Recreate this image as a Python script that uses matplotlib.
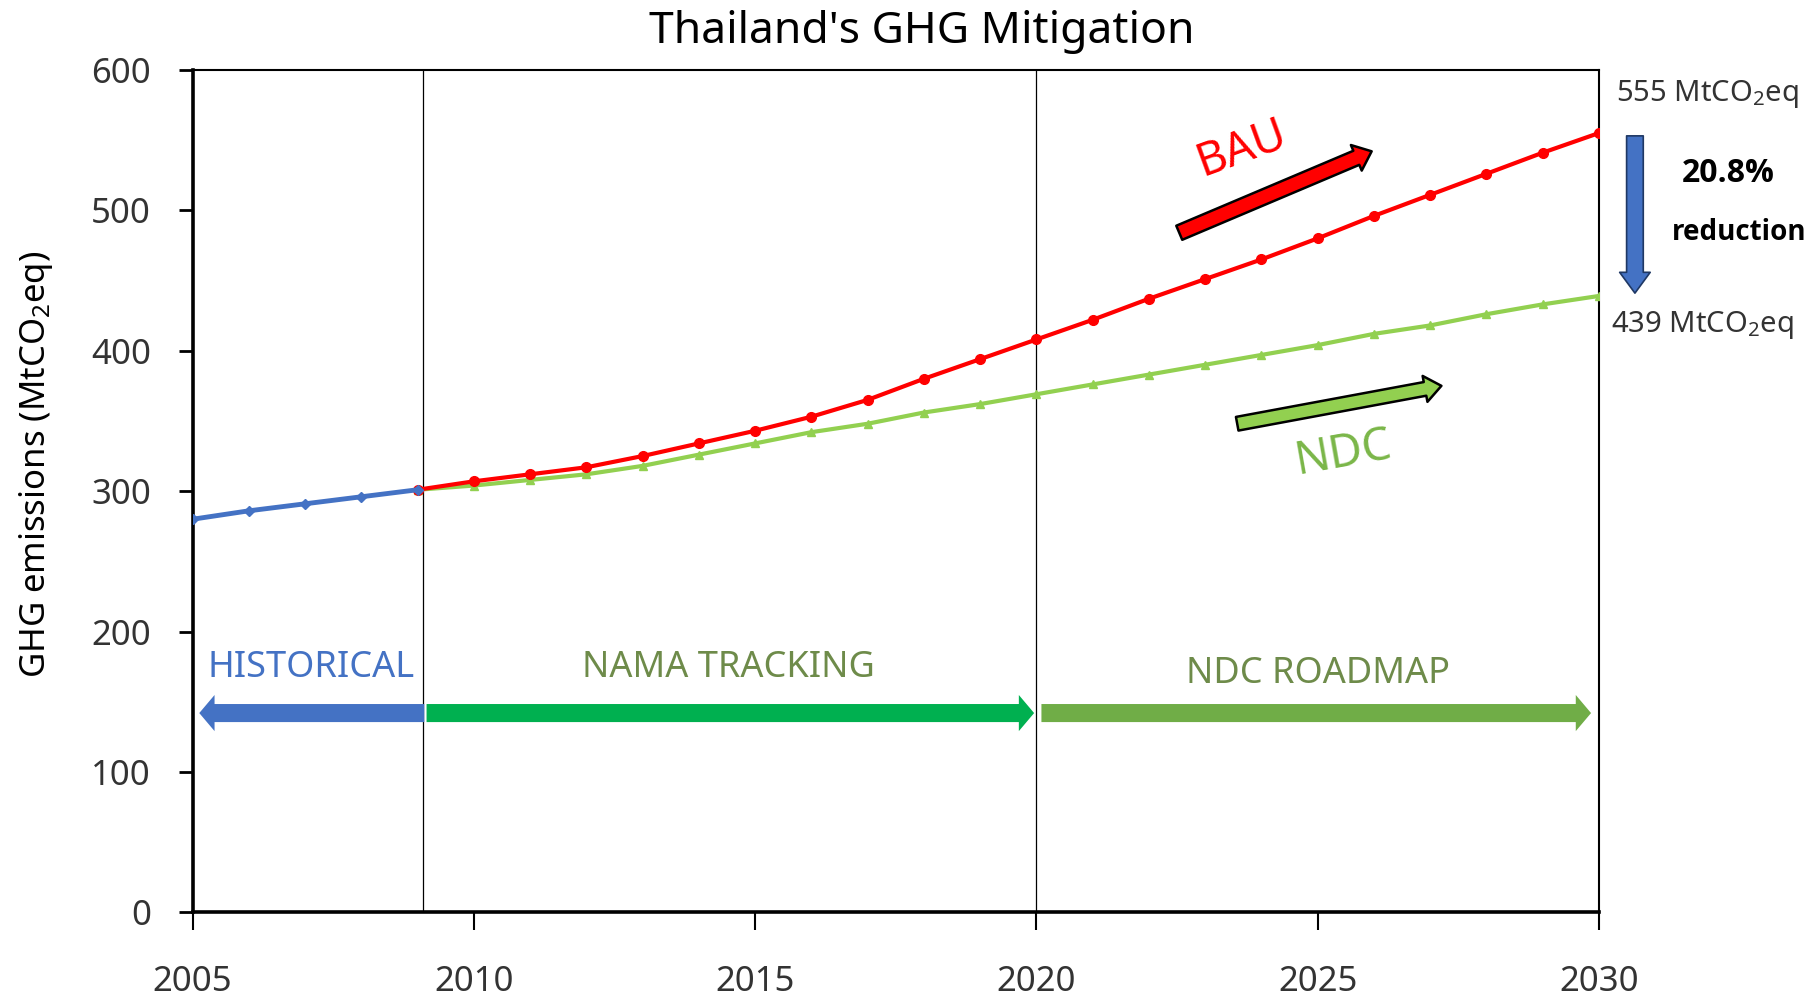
import matplotlib
matplotlib.use("Agg")
import matplotlib.pyplot as plt

plt.rcParams['font.family'] = ['Noto Sans', 'DejaVu Sans']
plt.rcParams['mathtext.fontset'] = 'custom'
plt.rcParams['mathtext.rm'] = 'Noto Sans'
plt.rcParams['mathtext.it'] = 'Noto Sans:italic'
plt.rcParams['mathtext.bf'] = 'Noto Sans:bold'

# ---------------- data ----------------
hist_years = [2005, 2006, 2007, 2008, 2009]
hist_vals = [280, 286, 291, 296, 301]

proj_years = list(range(2009, 2031))
bau_vals = [301, 307, 312, 317, 325, 334, 343, 353, 365, 380, 394, 408,
            422, 437, 451, 465, 480, 496, 511, 526, 541, 555]
ndc_vals = [301, 304, 308, 312, 318, 326, 334, 342, 348, 356, 362, 369,
            376, 383, 390, 397, 404, 412, 418, 426, 433, 439]

x_ticks = [2005, 2010, 2015, 2020, 2025, 2030]
y_ticks = [0, 100, 200, 300, 400, 500, 600]
period_bounds = [2009.1, 2020]

title = "Thailand's GHG Mitigation"
ylabel = "GHG emissions (MtCO$_2$eq)"

RED = '#FF0000'
GREEN = '#92D050'
BLUE = '#4472C4'
TXT = '#333333'
BOLD_FAMILY = ['Open Sans', 'Lato', 'DejaVu Sans']

fig = plt.figure(figsize=(18.18, 9.98), dpi=100)
ax = fig.add_axes([0.1059, 0.0857, 0.7736, 0.8443])

ax.plot(proj_years, ndc_vals, color=GREEN, lw=3, marker='^', ms=6, zorder=3)
ax.plot(proj_years, bau_vals, color=RED, lw=3, marker='o', ms=7, zorder=4)
ax.plot(hist_years, hist_vals, color=BLUE, lw=3.5, marker='D', ms=5, zorder=5)

for xb in period_bounds:
    ax.axvline(xb, color='black', lw=0.9, zorder=1)

ax.set_xlim(2005, 2030)
ax.set_ylim(0, 600)
ax.set_xticks(x_ticks)
ax.set_yticks(y_ticks)
ax.tick_params(axis='x', direction='out', length=13, width=1.5, pad=25,
               labelsize=25, labelcolor=TXT)
ax.tick_params(axis='y', direction='out', length=10, width=2, pad=20,
               labelsize=25, labelcolor=TXT)
for s in ['left', 'bottom']:
    ax.spines[s].set_linewidth(2.6)
for s in ['top', 'right']:
    ax.spines[s].set_linewidth(1.5)

ax.set_ylabel(ylabel, fontsize=25, color='black')
ax.yaxis.set_label_coords(-0.098, 0.532)
fig.text(0.507, 0.968, title, ha='center', va='center', fontsize=32, color='black')

# end-value annotations
ax.text(2030.3, 583, "555 MtCO$_2$eq", ha='left', va='center', fontsize=21,
        color=TXT, clip_on=False)
ax.text(2030.22, 418, "439 MtCO$_2$eq", ha='left', va='center', fontsize=21,
        color=TXT, clip_on=False)
ax.text(2032.3, 526, "20.8%", ha='center', va='center', fontsize=23,
        fontweight='bold', family=BOLD_FAMILY, color='black', clip_on=False)
ax.text(2032.5, 484, "reduction", ha='center', va='center', fontsize=20,
        fontweight='bold', family=BOLD_FAMILY, color='black', clip_on=False)

# blue reduction arrow
ax.annotate('', xy=(2030.64, 441), xytext=(2030.64, 553),
            annotation_clip=False,
            arrowprops=dict(arrowstyle='simple,head_length=15,head_width=22,tail_width=12',
                            mutation_scale=1, fc=BLUE, ec='#1F3864', lw=1.2,
                            shrinkA=0, shrinkB=0))

# BAU arrow and label
ax.annotate('', xy=(2025.96, 542), xytext=(2022.54, 484),
            arrowprops=dict(arrowstyle='simple,head_length=12,head_width=20,tail_width=11',
                            mutation_scale=1, fc=RED, ec='black', lw=1.8,
                            shrinkA=0, shrinkB=0))
ax.text(2023.65, 544, "BAU", ha='center', va='center', fontsize=33, color=RED,
        rotation=20)

# NDC arrow and label
ax.annotate('', xy=(2027.2, 375), xytext=(2023.57, 348),
            arrowprops=dict(arrowstyle='simple,head_length=12,head_width=19,tail_width=10',
                            mutation_scale=1, fc=GREEN, ec='black', lw=1.8,
                            shrinkA=0, shrinkB=0))
ax.text(2025.45, 327, "NDC", ha='center', va='center', fontsize=33, color='#7AB648',
        rotation=10)

# period arrows
ax.annotate('', xy=(2005.12, 142), xytext=(2009.12, 142),
            arrowprops=dict(arrowstyle='simple,head_length=11,head_width=26,tail_width=13',
                            mutation_scale=1, fc=BLUE, ec='none',
                            shrinkA=0, shrinkB=0))
ax.annotate('', xy=(2019.96, 142), xytext=(2009.16, 142),
            arrowprops=dict(arrowstyle='simple,head_length=11,head_width=26,tail_width=13',
                            mutation_scale=1, fc='#00B050', ec='none',
                            shrinkA=0, shrinkB=0))
ax.annotate('', xy=(2029.86, 142), xytext=(2020.09, 142),
            arrowprops=dict(arrowstyle='simple,head_length=11,head_width=26,tail_width=13',
                            mutation_scale=1, fc='#70AD47', ec='none',
                            shrinkA=0, shrinkB=0))

ax.text(2007.1, 174, "HISTORICAL", ha='center', va='center', fontsize=26, color=BLUE)
ax.text(2014.52, 174, "NAMA TRACKING", ha='center', va='center', fontsize=26,
        color='#6E8B4A')
ax.text(2025.0, 170, "NDC ROADMAP", ha='center', va='center', fontsize=26,
        color='#6E8B4A')

fig.savefig('out.png', dpi=100)
